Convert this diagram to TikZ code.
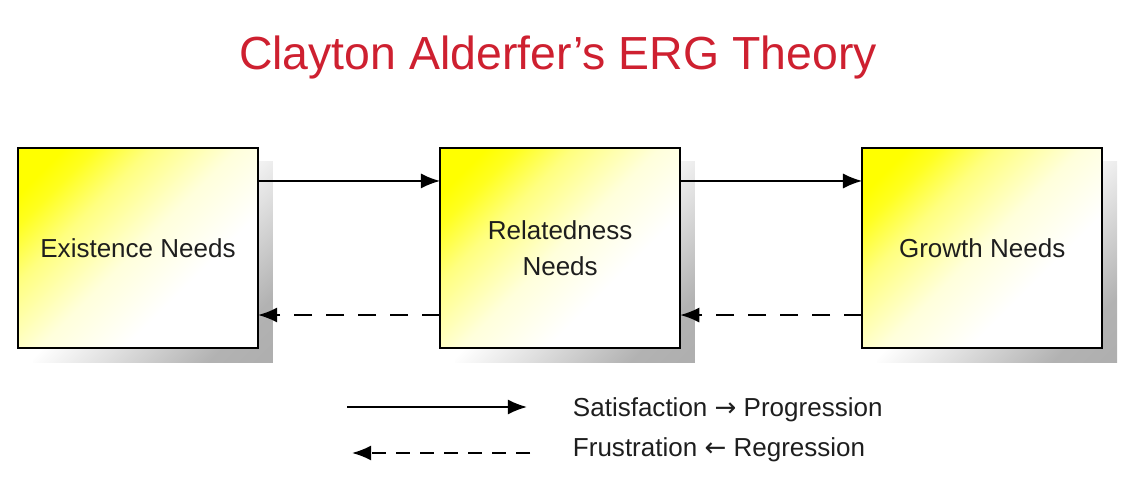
\documentclass[tikz,border=0pt]{standalone}
\usepackage{fontspec}
\setmainfont{Liberation Sans}
\newfontfamily\arrowfont{DejaVu Sans}
\usetikzlibrary{positioning,arrows.meta,shadows}
\definecolor{titlered}{RGB}{206,32,48}
\definecolor{txtgray}{RGB}{30,30,30}
\pgfdeclareverticalshading{needfade}{100bp}{color(0bp)=(white); color(36bp)=(white);
  color(50bp)=(yellow!14!white); color(64bp)=(yellow!50!white); color(73bp)=(yellow!88!white);
  color(78bp)=(yellow); color(100bp)=(yellow)}
\pgfdeclareverticalshading{shadowfade}{100bp}{color(0bp)=(black!34); color(25bp)=(black!30);
  color(42bp)=(black!12); color(54bp)=(white); color(100bp)=(white)}

\begin{document}
\begin{tikzpicture}[x=0.025cm,y=-0.025cm,node distance=4.55cm,>={Latex[length=0.48cm,width=0.38cm]},
  need/.style={draw,line width=1.4pt,outer sep=0pt,minimum width=6cm,minimum height=5cm,align=center,
    text=txtgray,font=\fontsize{18.5}{26}\selectfont,shading=needfade,shading angle=45,
    drop shadow={shadow xshift=0.37cm,shadow yshift=-0.35cm,shading=shadowfade,shading angle=45,opacity=1}},
  lnk/.style={->,line width=1.4pt},
  leg/.style={anchor=west,text=txtgray,font=\fontsize{18.5}{24}\selectfont}]
\useasboundingbox (0,0) rectangle (1121,477);
% title
\node[text=titlered,font=\fontsize{33}{40}\selectfont] (ttl) at (558,58) {Clayton Alderfer’s ERG Theory};
% the three needs
\node[need] (ex) at (138,248) {Existence Needs};
\node[need,right=of ex] (rel) {Relatedness\\Needs};
\node[need,right=of rel] (gr) {Growth Needs};
\draw[lnk] ([yshift=1.675cm]ex.east) -- ([yshift=1.675cm]rel.west);
\draw[lnk] ([yshift=1.675cm]rel.east) -- ([yshift=1.675cm]gr.west);
\draw[lnk,dash pattern=on 0.45cm off 0.35cm] ([yshift=-1.675cm]rel.west) -- ([yshift=-1.675cm]ex.east);
\draw[lnk,dash pattern=on 0.45cm off 0.35cm] ([yshift=-1.675cm]gr.west) -- ([yshift=-1.675cm]rel.east);
% legend
\node[leg] (sat) at (568,410) {Satisfaction {\arrowfont →} Progression};
\node[leg] (fru) at (568,450) {Frustration {\arrowfont ←} Regression};
\coordinate (s0) at (347,407); \coordinate (s1) at (527,407);
\coordinate (f0) at (530,453); \coordinate (f1) at (352,453);
\draw[lnk] (s0) -- (s1);
\draw[lnk,dash pattern=on 0.35cm off 0.25cm] (f0) -- (f1);
\end{tikzpicture}
\end{document}
